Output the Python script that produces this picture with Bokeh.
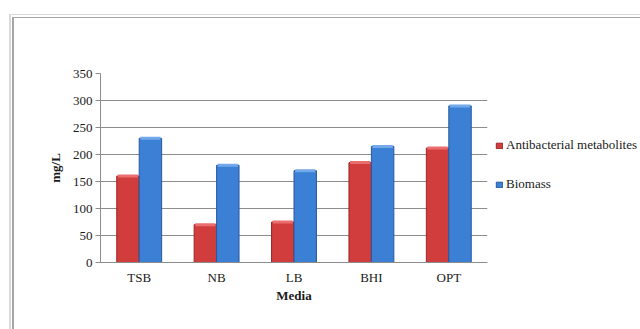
from bokeh.plotting import figure
from bokeh.models import (ColumnDataSource, FactorRange, Range1d, FixedTicker,
                          Legend, LegendItem)
from bokeh.transform import dodge
from bokeh.embed import file_html
from bokeh.resources import INLINE

# Yield per culture medium (mg/L)
media = ["TSB", "NB", "LB", "BHI", "OPT"]
antibacterial = [160, 70, 75, 185, 212]
biomass = [230, 180, 170, 215, 290]
y_ticks = [0, 50, 100, 150, 200, 250, 300, 350]

series_names = ["Antibacterial metabolites", "Biomass"]

src = ColumnDataSource(dict(media=media, antibacterial=antibacterial, biomass=biomass))

FONT = "Liberation Serif"
GRID = "#8c8c8c"
TEXT = "#1a1a1a"

p = figure(frame_width=387, frame_height=189, output_backend="svg", toolbar_location=None,
           x_range=FactorRange(factors=media, range_padding=0),
           y_range=Range1d(0, 350),
           min_border_left=100, min_border_right=153,
           min_border_top=73, min_border_bottom=67)
p.outline_line_color = None
p.background_fill_alpha = 0
p.border_fill_alpha = 0

# double grey frame around the chart, drawn behind the transparent canvas
p.styles = {
    "background-image": ", ".join(["linear-gradient(#dadada, #dadada)"] * 2
                                  + ["linear-gradient(#a6a6a6, #a6a6a6)"] * 2),
    "background-position": "9px 14px, 9px 14px, 12px 17px, 12px 17px",
    "background-size": "2px 400px, 700px 1px, 2px 400px, 700px 1px",
    "background-repeat": "no-repeat",
}

bw = 0.29
red_fill, red_edge, red_top = "#d13c3c", "#9a2626", "#ea6e6e"
blue_fill, blue_edge, blue_top = "#3b80d4", "#27599e", "#72a9ea"

r_red = p.vbar(x=dodge("media", -bw / 2, range=p.x_range), top="antibacterial", width=bw,
               source=src, fill_color=red_fill, line_color=red_edge, line_width=1)
r_blue = p.vbar(x=dodge("media", bw / 2, range=p.x_range), top="biomass", width=bw,
                source=src, fill_color=blue_fill, line_color=blue_edge, line_width=1)
# light bevel at the top of each bar
p.rect(x=dodge("media", -bw / 2, range=p.x_range), y="antibacterial", width=bw * 0.9,
       height=3, height_units="screen", source=src, fill_color=red_top, line_color=None)
p.rect(x=dodge("media", bw / 2, range=p.x_range), y="biomass", width=bw * 0.9,
       height=3, height_units="screen", source=src, fill_color=blue_top, line_color=None)

# axes
p.yaxis.ticker = FixedTicker(ticks=y_ticks)
p.yaxis.axis_label = "mg/L"
p.xaxis.axis_label = "Media"
for ax in (p.xaxis, p.yaxis):
    ax.axis_line_color = GRID
    ax.major_tick_line_color = GRID
    ax.minor_tick_line_color = None
    ax.major_label_text_font = FONT
    ax.major_label_text_font_size = "13px"
    ax.major_label_text_color = TEXT
    ax.axis_label_text_font = FONT
    ax.axis_label_text_font_size = "13px"
    ax.axis_label_text_font_style = "bold"
    ax.axis_label_text_color = TEXT
p.yaxis.major_tick_out = 5
p.yaxis.major_tick_in = 0
p.yaxis.major_label_standoff = 3
p.yaxis.axis_label_standoff = 7
p.xaxis.major_tick_out = 0
p.xaxis.major_tick_in = 0
p.xaxis.major_label_standoff = 7
p.xaxis.axis_label_standoff = 0

p.xgrid.grid_line_color = None
p.ygrid.grid_line_color = GRID
p.ygrid.grid_line_width = 1

legend = Legend(items=[LegendItem(label=series_names[0], renderers=[r_red]),
                       LegendItem(label=series_names[1], renderers=[r_blue])],
                location=(8, 70), orientation="vertical",
                glyph_width=8, glyph_height=7, label_standoff=3,
                label_height=13, spacing=23, padding=0, margin=0,
                border_line_color=None, background_fill_alpha=0,
                label_text_font=FONT, label_text_font_size="13px",
                label_text_color=TEXT)
p.add_layout(legend, "right")

open("out.html", "w").write(file_html(p, INLINE))
